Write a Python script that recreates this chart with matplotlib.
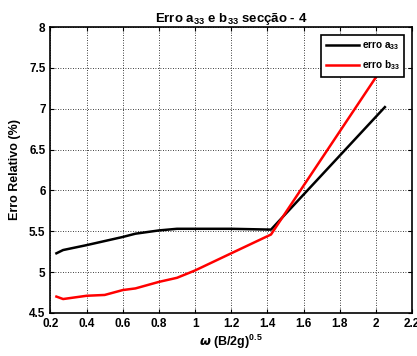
import matplotlib

matplotlib.use("Agg")
import matplotlib.pyplot as plt

plt.rcParams.update({"font.family": "Liberation Sans", "font.weight": "bold",
                     "mathtext.default": "regular"})

# relative error of a33 / b33 against non-dimensional frequency
omega = [0.233, 0.27, 0.4, 0.5, 0.6, 0.67, 0.8, 0.9, 1.0, 1.2, 1.42, 2.05]
erro_a33 = [5.23, 5.27, 5.33, 5.38, 5.43, 5.47, 5.51, 5.53, 5.53, 5.53, 5.52, 7.02]
erro_b33 = [4.70, 4.67, 4.71, 4.72, 4.78, 4.80, 4.88, 4.93, 5.02, 5.23, 5.46, 7.55]

xticks = [0.2, 0.4, 0.6, 0.8, 1, 1.2, 1.4, 1.6, 1.8, 2, 2.2]
xticklabels = ["0.2", "0.4", "0.6", "0.8", "1", "1.2", "1.4", "1.6", "1.8", "2", "2.2"]
yticks = [4.5, 5, 5.5, 6, 6.5, 7, 7.5, 8]
yticklabels = ["4.5", "5", "5.5", "6", "6.5", "7", "7.5", "8"]

fig = plt.figure(figsize=(4.17, 3.56), dpi=100)
ax = fig.add_axes([0.121, 0.121, 0.867, 0.803])

ax.plot(omega, erro_a33, color="black", lw=1.8, label="erro a$_{33}$")
ax.plot(omega, erro_b33, color="red", lw=1.8, label="erro b$_{33}$")

ax.set_xlim(0.2, 2.2)
ax.set_ylim(4.5, 8)
ax.set_xticks(xticks)
ax.set_xticklabels(xticklabels)
ax.set_yticks(yticks)
ax.set_yticklabels(yticklabels)
ax.tick_params(direction="in", top=True, right=True, labelsize=8.5, length=3, width=0.8)
for lab in ax.get_xticklabels() + ax.get_yticklabels():
    lab.set_fontweight("bold")
for s in ax.spines.values():
    s.set_linewidth(1.2)
ax.grid(True, color="black", ls=(0, (1, 2)), lw=0.6)

ax.set_title("Erro a$_{33}$ e b$_{33}$ secção - 4", fontsize=9.5, fontweight="bold", pad=4)
ax.set_xlabel(r"$\it{\omega}$ (B/2g)$^{0.5}$", fontsize=9, fontweight="bold", labelpad=2)
ax.set_ylabel("Erro Relativo (%)", fontsize=9, fontweight="bold", labelpad=6)

leg = ax.legend(loc="upper right", fontsize=7.2, frameon=True, fancybox=False,
                handlelength=3.3, borderpad=0.45, labelspacing=0.6, handletextpad=0.3,
                borderaxespad=0.8)
leg.get_frame().set_edgecolor("black")
leg.get_frame().set_linewidth(1.2)
leg.get_frame().set_alpha(1)
for t in leg.get_texts():
    t.set_fontweight("bold")

fig.savefig("out.png", dpi=100)
plt.close(fig)
